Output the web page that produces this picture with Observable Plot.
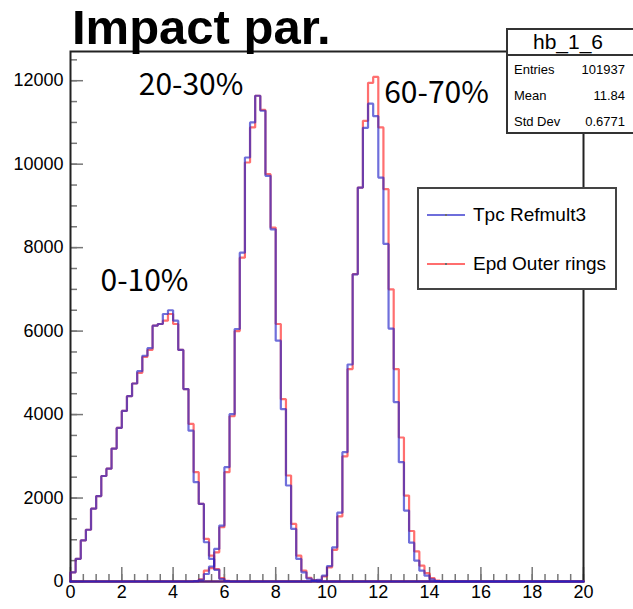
<!DOCTYPE html>
<html>
<head>
<meta charset="utf-8">
<script src="https://cdn.jsdelivr.net/npm/d3@7"></script>
<script src="https://cdn.jsdelivr.net/npm/@observablehq/plot@0.6"></script>
<style>
  body { margin: 0; background: #fff; }
  #wrap { position: relative; width: 633px; height: 609px; overflow: hidden;
          font-family: "Liberation Sans", Arial, Helvetica, sans-serif; color: #000; }
  #wrap svg { position: absolute; left: 0; top: 0; }
  #title { position: absolute; left: 72px; top: 3px; font-weight: bold; font-size: 49px;
           line-height: 48px; white-space: nowrap; }
  #stats { position: absolute; left: 506px; top: 28px; width: 130px; height: 106px;
           box-sizing: border-box; border: 2px solid #333; background: #fff; }
  #stats .head { height: 24px; border-bottom: 2px solid #333; text-align: center;
                 font-size: 21px; line-height: 24px; padding-right: 6px; }
  #stats .row { position: absolute; left: 6px; right: 9px; font-size: 13px; line-height: 16px;
                display: flex; justify-content: space-between; }
  #legend { position: absolute; left: 417px; top: 187px; width: 200px; height: 103px;
            box-sizing: border-box; border: 2px solid #444; background: #fff; }
  #legend .entry { position: absolute; left: 8px; font-size: 19px; line-height: 22px;
                   white-space: nowrap; }
  #legend .swatch { position: absolute; left: 0; top: 10px; width: 38px; height: 2px; }
  #legend .swatch::after { content: ""; position: absolute; left: 18px; top: 0; width: 2px;
                           height: 2px; background: #222; }
  #legend .label { position: absolute; left: 46px; top: 0; }
</style>
</head>
<body>
<div id="wrap"></div>
<script>
// Impact parameter distributions, bins of 0.2 over [0, 20].
const binWidth = 0.2;
const nBins = 100;

// Counts per bin for each centrality class; each array starts at the given bin index.
const start_0_10 = 0;
const tpc_0_10 = [220, 544, 984, 1240, 1744, 2048, 2528, 2704, 3184, 3680, 4088, 4440, 4744, 5040,
  5410, 5590, 6130, 6170, 6410, 6500, 6250, 5550, 4610, 3615, 2380, 1860, 940, 540, 280, 60, 10];
const epd_0_10 = [220, 544, 984, 1240, 1744, 2048, 2528, 2704, 3184, 3680, 4088, 4440, 4744, 5000,
  5380, 5550, 6130, 6170, 6250, 6410, 6170, 5550, 4610, 3775, 2620, 1860, 1020, 620, 300, 80, 15];

const start_20_30 = 24;
const tpc_20_30 = [10, 40, 180, 360, 780, 1340, 2740, 4010, 6050, 7880, 10160, 11000, 11640, 11280,
  9720, 8440, 5770, 4130, 2300, 1260, 540, 220, 70, 20, 5];
const epd_20_30 = [10, 50, 260, 320, 700, 1300, 2620, 3960, 6000, 7760, 10040, 10880, 11640, 11300,
  9760, 8480, 6170, 4370, 2540, 1380, 620, 260, 90, 25, 8];

const start_60_70 = 47;
const tpc_60_70 = [20, 40, 140, 370, 820, 1650, 3100, 5200, 7360, 9440, 10870, 11450, 11150, 9680,
  8090, 6060, 4300, 2860, 1700, 930, 500, 260, 140, 50, 10];
const epd_60_70 = [15, 30, 120, 340, 760, 1560, 3000, 5090, 7365, 9440, 11040, 11950, 12090, 10880,
  9400, 7000, 5090, 3450, 2060, 1210, 720, 380, 200, 80, 20];

// Axis ticks
const xMajor = [0, 2, 4, 6, 8, 10, 12, 14, 16, 18, 20];
const xMinor = d3.range(0, 20.001, 0.5);
const yMajor = [0, 2000, 4000, 6000, 8000, 10000, 12000];
const yMinor = d3.range(0, 12501, 500);

// Centrality class annotations
const classLabels = ["0-10%", "20-30%", "60-70%"];
const classLabelX = [1.17, 2.66, 12.23];
const classLabelY = [6970, 11665, 11473];

// Statistics box
const statsName = "hb_1_6";
const statsKeys = ["Entries", "Mean", "Std Dev"];
const statsValues = ["101937", "11.84", "0.6771"];

// Legend entries
const seriesNames = ["Tpc Refmult3", "Epd Outer rings"];
const blue = "#2222c8", red = "#ff2222", lineAlpha = 0.65;
const seriesColors = [blue, red];

// Expand a partial array into a full histogram outline (step path closed to zero at both ends).
function outline(counts, start) {
  const bins = new Array(nBins).fill(0);
  counts.forEach((c, i) => { bins[start + i] = c; });
  const pts = [{x: 0, y: 0}];
  bins.forEach((c, i) => pts.push({x: i * binWidth, y: c}));
  pts.push({x: nBins * binWidth, y: bins[nBins - 1]});
  pts.push({x: nBins * binWidth, y: 0});
  return pts;
}

const W = 633, H = 609, mL = 70, mR = 50, mT = 51, mB = 28;
const innerW = W - mL - mR, innerH = H - mT - mB;

const histLine = (counts, start, color) =>
  Plot.line(outline(counts, start), {x: "x", y: "y", curve: "step-after", stroke: color,
    strokeOpacity: lineAlpha, strokeWidth: 2.2, strokeLinejoin: "miter"});

const labelData = classLabels.map((t, i) => ({t, x: classLabelX[i], y: classLabelY[i]}));

const chart = Plot.plot({
  width: W, height: H,
  marginLeft: mL, marginRight: mR, marginTop: mT, marginBottom: mB,
  x: {domain: [0, 20]},
  y: {domain: [0, 12700]},
  style: {fontFamily: "'Liberation Sans', Arial, Helvetica, sans-serif", fontSize: "18px",
          background: "transparent", color: "#000"},
  marks: [
    Plot.ruleX(xMinor, {x: d => d, insetTop: innerH - 7, stroke: "#777", strokeWidth: 1.5}),
    Plot.ruleX(xMajor, {x: d => d, insetTop: innerH - 14, stroke: "#777", strokeWidth: 1.5}),
    Plot.ruleY(yMinor, {y: d => d, insetRight: innerW - 7, stroke: "#777", strokeWidth: 1.5}),
    Plot.ruleY(yMajor, {y: d => d, insetRight: innerW - 13, stroke: "#777", strokeWidth: 1.5}),
    Plot.axisX(xMajor, {tickSize: 0, tickPadding: 4, label: null, tickFormat: d => String(d)}),
    Plot.axisY(yMajor, {tickSize: 0, tickPadding: 7, label: null, tickFormat: d => String(d)}),
    Plot.frame({stroke: "#222", strokeWidth: 2}),
    histLine(epd_0_10, start_0_10, red),
    histLine(epd_20_30, start_20_30, red),
    histLine(epd_60_70, start_60_70, red),
    histLine(tpc_0_10, start_0_10, blue),
    histLine(tpc_20_30, start_20_30, blue),
    histLine(tpc_60_70, start_60_70, blue),
    Plot.text(labelData, {x: "x", y: "y", text: "t", textAnchor: "start", lineAnchor: "bottom",
      fontSize: 30, fontFamily: "'Noto Sans CJK JP', 'Noto Sans', sans-serif", fill: "#000"})
  ]
});

const wrap = document.getElementById("wrap");
wrap.appendChild(chart);

// Title
const title = document.createElement("div");
title.id = "title";
title.textContent = "Impact par.";
wrap.appendChild(title);

// Statistics box
const stats = document.createElement("div");
stats.id = "stats";
const head = document.createElement("div");
head.className = "head";
head.textContent = statsName;
stats.appendChild(head);
const rowTops = [32, 58, 84];
statsKeys.forEach((k, i) => {
  const row = document.createElement("div");
  row.className = "row";
  row.style.top = rowTops[i] + "px";
  const a = document.createElement("span"); a.textContent = k;
  const b = document.createElement("span"); b.textContent = statsValues[i];
  row.appendChild(a); row.appendChild(b);
  stats.appendChild(row);
});
wrap.appendChild(stats);

// Legend
const legend = document.createElement("div");
legend.id = "legend";
const entryTops = [15, 64];
seriesNames.forEach((name, i) => {
  const e = document.createElement("div");
  e.className = "entry";
  e.style.top = entryTops[i] + "px";
  const sw = document.createElement("div");
  sw.className = "swatch";
  sw.style.background = seriesColors[i];
  sw.style.opacity = lineAlpha;
  const lab = document.createElement("div");
  lab.className = "label";
  lab.textContent = name;
  e.appendChild(sw); e.appendChild(lab);
  legend.appendChild(e);
});
wrap.appendChild(legend);
</script>
</body>
</html>
